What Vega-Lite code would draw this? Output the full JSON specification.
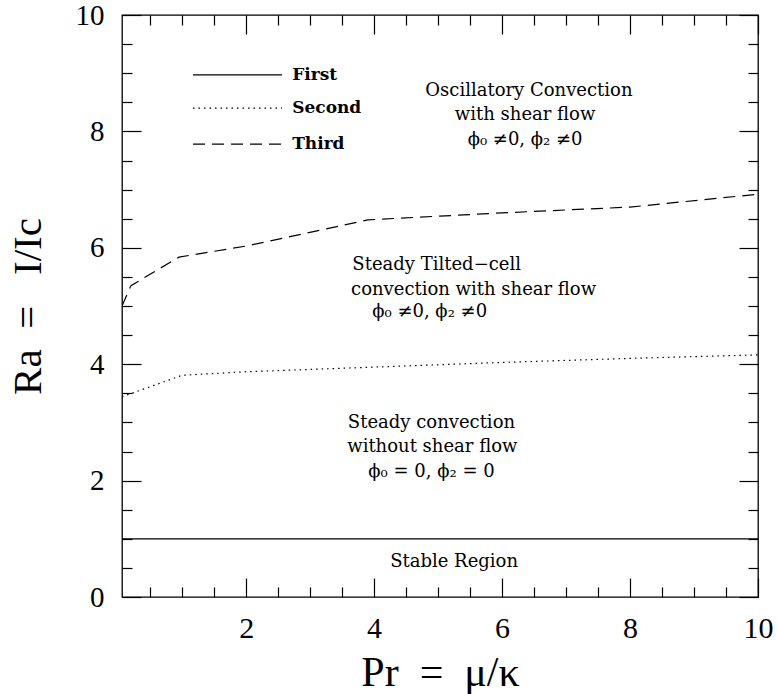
{
  "$schema": "https://vega.github.io/schema/vega-lite/v6.json",
  "width": 636,
  "height": 582,
  "autosize": {"type": "none"},
  "padding": {"left": 122, "top": 15, "right": 20, "bottom": 97},
  "background": "white",
  "config": {
    "view": {"stroke": "#000", "strokeWidth": 1.3},
    "axis": {
      "domain": false,
      "grid": false,
      "tickColor": "#000",
      "tickWidth": 1.2,
      "labelColor": "#000",
      "titleColor": "#000",
      "labelFont": "Liberation Serif",
      "titleFont": "Liberation Serif",
      "labelFontWeight": "normal",
      "titleFontWeight": "normal"
    }
  },
  "datasets": {
    "curves": [
      {"g": "First", "s": "solid", "x": 0.06, "y": 1.0},
      {"g": "First", "s": "solid", "x": 10, "y": 1.0},
      {"g": "Second", "s": "dotted", "x": 0.06, "y": 3.44},
      {"g": "Second", "s": "dotted", "x": 1.0, "y": 3.81},
      {"g": "Second", "s": "dotted", "x": 2, "y": 3.87},
      {"g": "Second", "s": "dotted", "x": 4, "y": 3.95},
      {"g": "Second", "s": "dotted", "x": 6, "y": 4.03},
      {"g": "Second", "s": "dotted", "x": 8, "y": 4.1},
      {"g": "Second", "s": "dotted", "x": 10, "y": 4.16},
      {"g": "Third", "s": "dashed", "x": 0.06, "y": 5.0},
      {"g": "Third", "s": "dashed", "x": 0.2, "y": 5.35},
      {"g": "Third", "s": "dashed", "x": 0.95, "y": 5.84},
      {"g": "Third", "s": "dashed", "x": 2, "y": 6.03},
      {"g": "Third", "s": "dashed", "x": 3.9, "y": 6.48},
      {"g": "Third", "s": "dashed", "x": 6, "y": 6.6},
      {"g": "Third", "s": "dashed", "x": 8, "y": 6.7},
      {"g": "Third", "s": "dashed", "x": 10, "y": 6.92}
    ],
    "legendLines": [
      {"g": "First", "s": "solid", "x": 1.17, "y": 8.97},
      {"g": "First", "s": "solid", "x": 2.56, "y": 8.97},
      {"g": "Second", "s": "dotted", "x": 1.17, "y": 8.40},
      {"g": "Second", "s": "dotted", "x": 2.56, "y": 8.40},
      {"g": "Third", "s": "dashed", "x": 1.17, "y": 7.78},
      {"g": "Third", "s": "dashed", "x": 2.56, "y": 7.78}
    ],
    "legendText": [
      {"label": "First", "x": 2.72, "y": 8.97},
      {"label": "Second", "x": 2.72, "y": 8.40},
      {"label": "Third", "x": 2.72, "y": 7.78}
    ],
    "centerText": [
      {"label": "Oscillatory Convection", "x": 6.42, "y": 8.69},
      {"label": "with shear flow", "x": 6.36, "y": 8.28},
      {"label": "ϕ₀ ≠0, ϕ₂ ≠0", "x": 6.36, "y": 7.85},
      {"label": "Stable Region", "x": 5.25, "y": 0.60}
    ],
    "leftText": [
      {"label": "Steady Tilted−cell", "x": 3.66, "y": 5.70},
      {"label": "convection with shear flow", "x": 3.64, "y": 5.27},
      {"label": "ϕ₀ ≠0, ϕ₂ ≠0", "x": 3.97, "y": 4.90},
      {"label": "Steady convection", "x": 3.59, "y": 2.99},
      {"label": "without shear flow", "x": 3.58, "y": 2.58},
      {"label": "ϕ₀ = 0, ϕ₂ = 0", "x": 3.91, "y": 2.15}
    ]
  },
  "resolve": {"axis": {"x": "independent", "y": "independent"}},
  "layer": [
    {
      "data": {"name": "curves"},
      "mark": {"type": "line", "stroke": "#000", "strokeWidth": 1.2, "clip": true},
      "encoding": {
        "x": {
          "field": "x", "type": "quantitative",
          "scale": {"domain": [0.06, 10], "nice": false, "zero": false},
          "axis": {
            "orient": "bottom", "values": [2, 4, 6, 8, 10], "tickSize": -19,
            "labelPadding": 35, "labelFontSize": 30, "labelFlush": false, "labelOverlap": false,
            "title": "Pr\u00a0\u00a0=\u00a0\u00a0μ/κ", "titleFontSize": 42, "titleX": 318, "titleY": 88,
            "titleAlign": "center", "titleBaseline": "alphabetic"
          }
        },
        "y": {
          "field": "y", "type": "quantitative",
          "scale": {"domain": [0, 10], "nice": false, "zero": false},
          "axis": {
            "orient": "left", "values": [0, 2, 4, 6, 8, 10], "tickSize": -19,
            "labelPadding": 37, "labelFontSize": 29, "labelFlush": false, "labelOverlap": false,
            "title": "Ra\u00a0\u00a0=\u00a0\u00a0\u00a0I/Ic", "titleFontSize": 41, "titleAngle": -90,
            "titleX": -82, "titleY": 291, "titleAlign": "center", "titleBaseline": "alphabetic"
          }
        },
        "detail": {"field": "g"},
        "strokeDash": {
          "field": "s", "type": "nominal", "legend": null,
          "scale": {"domain": ["solid", "dotted", "dashed"], "range": [[1, 0], [1.5, 4], [12, 7]]}
        }
      }
    },
    {
      "data": {"name": "legendLines"},
      "mark": {"type": "line", "stroke": "#000", "strokeWidth": 1.2},
      "encoding": {
        "x": {
          "field": "x", "type": "quantitative",
          "scale": {"domain": [0.06, 10], "nice": false, "zero": false},
          "axis": {
            "orient": "bottom", "values": [0.5, 1, 1.5, 2.5, 3, 3.5, 4.5, 5, 5.5, 6.5, 7, 7.5, 8.5, 9, 9.5],
            "tickSize": -10, "labels": false, "title": null
          }
        },
        "y": {
          "field": "y", "type": "quantitative",
          "scale": {"domain": [0, 10], "nice": false, "zero": false},
          "axis": {
            "orient": "left", "values": [0.5, 1, 1.5, 2.5, 3, 3.5, 4.5, 5, 5.5, 6.5, 7, 7.5, 8.5, 9, 9.5],
            "tickSize": -10, "labels": false, "title": null
          }
        },
        "detail": {"field": "g"},
        "strokeDash": {
          "field": "s", "type": "nominal", "legend": null,
          "scale": {"domain": ["solid", "dotted", "dashed"], "range": [[1, 0], [1.5, 4], [12, 7]]}
        }
      }
    },
    {
      "data": {"name": "legendText"},
      "mark": {"type": "text", "font": "DejaVu Serif", "fontWeight": "bold", "fontSize": 17, "align": "left", "baseline": "middle", "color": "#000"},
      "encoding": {
        "x": {
          "field": "x", "type": "quantitative",
          "scale": {"domain": [0.06, 10], "nice": false, "zero": false},
          "axis": {"orient": "top", "values": [2, 4, 6, 8, 10], "tickSize": -19, "labels": false, "title": null}
        },
        "y": {
          "field": "y", "type": "quantitative",
          "scale": {"domain": [0, 10], "nice": false, "zero": false},
          "axis": {"orient": "right", "values": [0, 2, 4, 6, 8, 10], "tickSize": -19, "labels": false, "title": null}
        },
        "text": {"field": "label"}
      }
    },
    {
      "data": {"name": "centerText"},
      "mark": {"type": "text", "font": "DejaVu Serif", "fontSize": 18, "align": "center", "baseline": "middle", "color": "#000"},
      "encoding": {
        "x": {
          "field": "x", "type": "quantitative",
          "scale": {"domain": [0.06, 10], "nice": false, "zero": false},
          "axis": {
            "orient": "top", "values": [0.5, 1, 1.5, 2.5, 3, 3.5, 4.5, 5, 5.5, 6.5, 7, 7.5, 8.5, 9, 9.5],
            "tickSize": -10, "labels": false, "title": null
          }
        },
        "y": {
          "field": "y", "type": "quantitative",
          "scale": {"domain": [0, 10], "nice": false, "zero": false},
          "axis": {
            "orient": "right", "values": [0.5, 1, 1.5, 2.5, 3, 3.5, 4.5, 5, 5.5, 6.5, 7, 7.5, 8.5, 9, 9.5],
            "tickSize": -10, "labels": false, "title": null
          }
        },
        "text": {"field": "label"}
      }
    },
    {
      "data": {"name": "leftText"},
      "mark": {"type": "text", "font": "DejaVu Serif", "fontSize": 18, "align": "left", "baseline": "middle", "color": "#000"},
      "encoding": {
        "x": {
          "field": "x", "type": "quantitative",
          "scale": {"domain": [0.06, 10], "nice": false, "zero": false},
          "axis": null
        },
        "y": {
          "field": "y", "type": "quantitative",
          "scale": {"domain": [0, 10], "nice": false, "zero": false},
          "axis": null
        },
        "text": {"field": "label"}
      }
    }
  ]
}
